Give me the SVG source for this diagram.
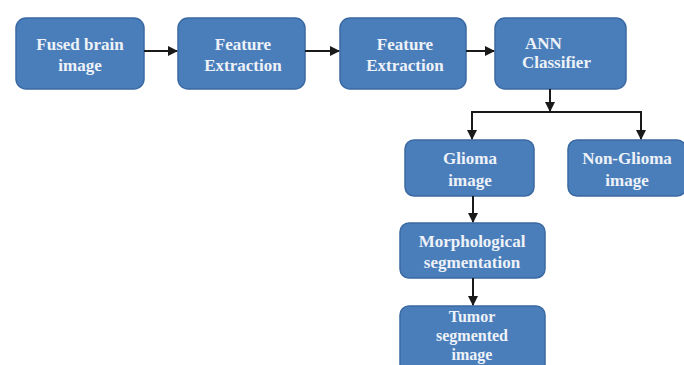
<svg xmlns="http://www.w3.org/2000/svg" width="684" height="365" viewBox="0 0 684 365">
<style>
.box{fill:#4a7ebb;stroke:#3b6aa3;stroke-width:1.5}
.t{font-family:"Liberation Serif","Times New Roman",serif;font-weight:bold;font-size:17px;fill:#eef2f8;text-anchor:middle}
.s{font-size:16px}
.l{text-anchor:start}
.c{fill:none;stroke:#1a1a1a;stroke-width:2}
</style>
<defs>
<marker id="ah" viewBox="0 0 10 10" refX="9" refY="5" markerWidth="5" markerHeight="5" orient="auto"><path d="M0,0 L10,5 L0,10 z" fill="#1a1a1a"/></marker>
</defs>
<rect width="684" height="365" fill="#ffffff"/>
<g id="fused"><rect class="box" x="16" y="18" width="128" height="71" rx="10"/><text class="t" x="80" y="50">Fused brain</text><text class="t" x="80" y="71">image</text></g>
<g id="feat1"><rect class="box" x="178" y="18" width="127" height="71" rx="10"/><text class="t" x="243" y="50">Feature</text><text class="t" x="243" y="71">Extraction</text></g>
<g id="feat2"><rect class="box" x="340" y="18" width="126" height="71" rx="10"/><text class="t" x="405" y="50">Feature</text><text class="t" x="405" y="71">Extraction</text></g>
<g id="ann"><rect class="box" x="495" y="18" width="131" height="71" rx="10"/><text class="t l" x="525" y="49">ANN</text><text class="t l" x="522" y="68">Classifier</text></g>
<g id="glioma"><rect class="box" x="405" y="140" width="129" height="56" rx="9"/><text class="t" x="470" y="164">Glioma</text><text class="t" x="470" y="186">image</text></g>
<g id="nonglioma"><rect class="box" x="568" y="140" width="118" height="56" rx="9"/><text class="t" x="627" y="164">Non-Glioma</text><text class="t" x="627" y="186">image</text></g>
<g id="morph"><rect class="box" x="400" y="223" width="145" height="55" rx="9"/><text class="t" x="472" y="247">Morphological</text><text class="t" x="472" y="268">segmentation</text></g>
<g id="tumor"><rect class="box" x="400" y="306" width="145" height="70" rx="9"/><text class="t s" x="472" y="322">Tumor</text><text class="t s" x="472" y="341">segmented</text><text class="t s" x="472" y="360">image</text></g>
<g id="connectors">
<line class="c" x1="144" y1="51" x2="177" y2="51" marker-end="url(#ah)"/>
<line class="c" x1="305" y1="51" x2="339" y2="51" marker-end="url(#ah)"/>
<line class="c" x1="466" y1="51" x2="494" y2="51" marker-end="url(#ah)"/>
<line class="c" x1="550" y1="89" x2="550" y2="111" marker-end="url(#ah)"/>
<polyline class="c" points="472,139 472,112 641,112 641,139"/>
<line class="c" x1="472" y1="120" x2="472" y2="139" marker-end="url(#ah)"/>
<line class="c" x1="641" y1="120" x2="641" y2="139" marker-end="url(#ah)"/>
<line class="c" x1="473" y1="196" x2="473" y2="222" marker-end="url(#ah)"/>
<line class="c" x1="473" y1="278" x2="473" y2="305" marker-end="url(#ah)"/>
</g>
</svg>
